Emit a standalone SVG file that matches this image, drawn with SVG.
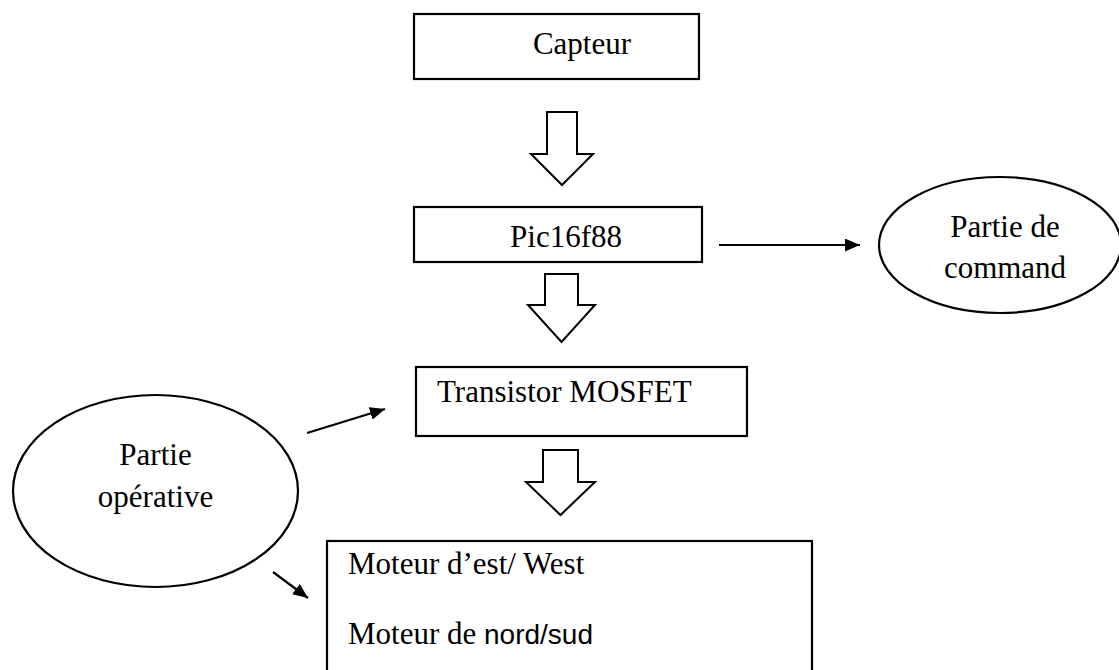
<svg xmlns="http://www.w3.org/2000/svg" width="1119" height="670" viewBox="0 0 1119 670">
<style>
.box{fill:#fff;stroke:#000;stroke-width:2.2}
.blk{fill:#fff;stroke:#000;stroke-width:2;stroke-linejoin:miter}
.t{font-family:"Liberation Serif","Times New Roman",serif;font-size:31px;fill:#000}
.ln{stroke:#000;stroke-width:2.2;fill:none}
</style>
<defs>
<marker id="ah2" viewBox="0 0 14 12" refX="14" refY="6" markerWidth="15" markerHeight="13" markerUnits="userSpaceOnUse" orient="auto">
<path d="M0,0 L14,6 L0,12 Z" fill="#000"/>
</marker>
</defs>
<rect width="1119" height="670" fill="#fff"/>
<g id="capteur">
<rect class="box" x="414" y="14" width="285" height="65"/>
<text class="t" x="582" y="54" text-anchor="middle">Capteur</text>
</g>
<g id="pic">
<rect class="box" x="414" y="207" width="288" height="55"/>
<text class="t" x="566" y="247" text-anchor="middle">Pic16f88</text>
</g>
<g id="commande">
<ellipse class="box" cx="1000" cy="245" rx="121" ry="68"/>
<text class="t" x="1005" y="237" text-anchor="middle" font-size="32">Partie de</text>
<text class="t" x="1005" y="278" text-anchor="middle" font-size="32">command</text>
</g>
<g id="transistor">
<rect class="box" x="416" y="367" width="331" height="69"/>
<text class="t" x="437" y="402" font-size="29.5">Transistor MOSFET</text>
</g>
<g id="operative">
<ellipse class="box" cx="155.5" cy="491" rx="142.5" ry="96"/>
<text class="t" x="155.5" y="465" text-anchor="middle">Partie</text>
<text class="t" x="155.5" y="507" text-anchor="middle">opérative</text>
</g>
<g id="moteurs">
<rect class="box" x="327" y="541" width="485" height="140"/>
<text class="t" x="348" y="574" font-size="31.5">Moteur d’est/ West</text>
<text class="t" x="348" y="644" font-size="31.5">Moteur de <tspan font-family="Liberation Sans, Arial, sans-serif" font-size="28">nord/sud</tspan></text>
</g>
<g id="connectors">
<path class="blk" d="M547,112 H577 V154 H593 L562,185 L531,154 H547 Z"/>
<path class="blk" d="M545,274 H578 V305 H595 L561.5,342 L528,305 H545 Z"/>
<path class="blk" d="M543,450 H578 V482 H595 L560.5,515 L526,482 H543 Z"/>
<line class="ln" x1="719" y1="245" x2="860" y2="245" marker-end="url(#ah2)"/>
<line class="ln" x1="307" y1="433" x2="385" y2="409" marker-end="url(#ah2)"/>
<line class="ln" x1="273" y1="572" x2="308" y2="598" marker-end="url(#ah2)"/>
</g>
</svg>
